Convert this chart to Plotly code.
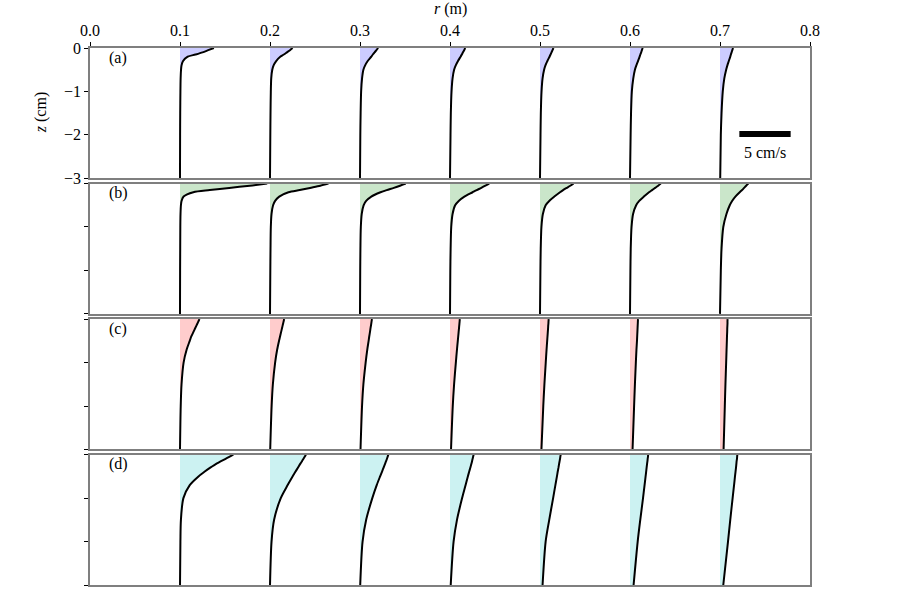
import plotly.graph_objects as go

# depth grid (cm)
Z = [0, -0.05, -0.1, -0.15, -0.2, -0.3, -0.4, -0.5, -0.7, -1.0, -1.5, -2.0, -3.0]
# stations (m)
R0 = [0.1, 0.2, 0.3, 0.4, 0.5, 0.6, 0.7]
# horizontal scale: metres per cm/s
S = 0.0114

U_a = [
    [3.3, 2.75, 2.2, 1.5, 0.75, 0.3, 0.15, 0.1, 0.06, 0.04, 0.02, 0.01, 0.0],
    [2.2, 1.95, 1.65, 1.35, 1.0, 0.6, 0.35, 0.22, 0.12, 0.08, 0.05, 0.03, 0.0],
    [1.77, 1.6, 1.42, 1.25, 1.1, 0.75, 0.5, 0.33, 0.2, 0.11, 0.06, 0.03, 0.0],
    [1.49, 1.38, 1.26, 1.15, 1.03, 0.78, 0.56, 0.4, 0.25, 0.15, 0.08, 0.05, 0.0],
    [1.31, 1.22, 1.12, 1.03, 0.93, 0.72, 0.53, 0.4, 0.25, 0.15, 0.08, 0.05, 0.0],
    [1.24, 1.16, 1.09, 1.01, 0.94, 0.78, 0.62, 0.48, 0.32, 0.18, 0.1, 0.06, 0.0],
    [1.27, 1.2, 1.13, 1.06, 1.0, 0.86, 0.72, 0.6, 0.42, 0.27, 0.15, 0.08, 0.02],
]
U_b = [
    [8.5, 6.8, 4.8, 2.9, 1.3, 0.35, 0.15, 0.09, 0.05, 0.03, 0.02, 0.01, 0.0],
    [5.7, 4.9, 3.9, 2.9, 1.8, 0.9, 0.5, 0.3, 0.15, 0.08, 0.05, 0.03, 0.0],
    [4.46, 3.9, 3.3, 2.6, 2.0, 1.1, 0.6, 0.35, 0.17, 0.08, 0.04, 0.02, 0.0],
    [3.82, 3.45, 3.05, 2.6, 2.2, 1.4, 0.85, 0.5, 0.25, 0.12, 0.06, 0.03, 0.0],
    [3.26, 2.95, 2.6, 2.25, 1.95, 1.4, 0.9, 0.55, 0.28, 0.14, 0.07, 0.04, 0.0],
    [3.0, 2.75, 2.45, 2.15, 1.85, 1.35, 0.9, 0.6, 0.3, 0.15, 0.07, 0.04, 0.0],
    [2.76, 2.55, 2.35, 2.15, 1.92, 1.5, 1.18, 0.95, 0.63, 0.32, 0.15, 0.08, 0.0],
]
U_c = [
    [1.9, 1.8, 1.7, 1.6, 1.5, 1.3, 1.1, 0.95, 0.65, 0.35, 0.15, 0.07, 0.0],
    [1.38, 1.33, 1.28, 1.23, 1.18, 1.08, 0.98, 0.88, 0.7, 0.5, 0.28, 0.16, 0.02],
    [1.17, 1.13, 1.1, 1.07, 1.03, 0.97, 0.9, 0.84, 0.71, 0.55, 0.33, 0.2, 0.05],
    [0.96, 0.94, 0.92, 0.9, 0.88, 0.84, 0.8, 0.76, 0.68, 0.57, 0.4, 0.27, 0.1],
    [0.85, 0.83, 0.82, 0.8, 0.79, 0.76, 0.73, 0.7, 0.64, 0.56, 0.43, 0.32, 0.14],
    [0.78, 0.77, 0.76, 0.75, 0.74, 0.72, 0.7, 0.68, 0.63, 0.57, 0.48, 0.4, 0.25],
    [0.74, 0.73, 0.73, 0.72, 0.71, 0.7, 0.68, 0.67, 0.64, 0.6, 0.53, 0.47, 0.35],
]
U_d = [
    [5.2, 4.8, 4.4, 4.0, 3.6, 2.95, 2.35, 1.8, 0.95, 0.33, 0.09, 0.04, 0.0],
    [3.5, 3.38, 3.25, 3.12, 2.98, 2.72, 2.46, 2.2, 1.72, 1.05, 0.4, 0.15, 0.0],
    [2.76, 2.69, 2.62, 2.54, 2.46, 2.3, 2.13, 1.96, 1.63, 1.2, 0.6, 0.25, 0.02],
    [2.3, 2.25, 2.2, 2.15, 2.1, 1.98, 1.86, 1.74, 1.52, 1.18, 0.68, 0.35, 0.07],
    [2.02, 1.98, 1.95, 1.91, 1.87, 1.8, 1.72, 1.65, 1.5, 1.28, 0.9, 0.55, 0.25],
    [1.77, 1.75, 1.72, 1.7, 1.67, 1.62, 1.57, 1.52, 1.42, 1.27, 1.0, 0.75, 0.35],
    [1.69, 1.67, 1.65, 1.62, 1.6, 1.56, 1.51, 1.46, 1.37, 1.23, 1.0, 0.78, 0.32],
]

PANELS = ["(a)", "(b)", "(c)", "(d)"]
FILLS = ["rgb(204,204,255)", "rgb(202,230,202)", "rgb(255,204,204)", "rgb(204,242,242)"]
X_TICKS = [0.0, 0.1, 0.2, 0.3, 0.4, 0.5, 0.6, 0.7, 0.8]
Y_TICKS = [0, -1, -2, -3]
BAR_SPEED = 5  # cm/s
BAR_X0 = 0.7215
BAR_Z = -1.98

FONT = "Liberation Serif, serif"
FS = 16
fig = go.Figure()

h = 0.2427
g = (1 - 4 * h) / 3
domains = [[1 - (i + 1) * h - i * g, 1 - i * h - i * g] for i in range(4)]
domains[3][0] = 0.0

for p, U in enumerate([U_a, U_b, U_c, U_d]):
    xa = "x" if p == 0 else f"x{p+1}"
    ya = "y" if p == 0 else f"y{p+1}"
    for r0, u in zip(R0, U):
        xs = [r0 + S * v for v in u]
        fig.add_trace(go.Scatter(x=[r0] * len(Z), y=Z, mode="lines",
                                 line=dict(width=0), hoverinfo="skip",
                                 showlegend=False, xaxis=xa, yaxis=ya))
        fig.add_trace(go.Scatter(x=xs, y=Z, mode="lines", fill="tonextx",
                                 fillcolor=FILLS[p],
                                 line=dict(color="black", width=2, shape="spline", smoothing=0.8),
                                 showlegend=False, xaxis=xa, yaxis=ya))
    axis_common = dict(showline=True, mirror=True, linecolor="#7f7f7f", linewidth=1.5,
                       showgrid=False, zeroline=False)
    key = "" if p == 0 else str(p + 1)
    xdict = dict(axis_common, range=[0, 0.8], anchor=ya)
    if p == 0:
        xdict.update(side="top", ticks="outside", ticklen=4, tickwidth=1, tickcolor="black",
                     tickvals=X_TICKS, ticktext=[f"{t:.1f}" for t in X_TICKS],
                     tickfont=dict(family=FONT, size=FS, color="black"))
    else:
        xdict.update(showticklabels=False, ticks="", matches="x")
    ydict = dict(axis_common, range=[-3, 0], anchor=xa, domain=domains[p],
                 ticks="outside", ticklen=4, tickwidth=1, tickcolor="black",
                 tickvals=Y_TICKS,
                 tickfont=dict(family=FONT, size=FS, color="black"))
    if p == 0:
        ydict.update(ticktext=["0", "\u22121", "\u22122", "\u22123"])
    else:
        ydict.update(showticklabels=False)
    fig.update_layout(**{f"xaxis{key}": xdict, f"yaxis{key}": ydict})
    fig.add_annotation(text=PANELS[p], x=0.039, y=0.926, xref=f"{xa} domain",
                       yref=f"{ya} domain", xanchor="center", yanchor="middle",
                       showarrow=False,
                       font=dict(family=FONT, size=FS, color="black"))

# scale bar
fig.add_trace(go.Scatter(x=[BAR_X0, BAR_X0 + S * BAR_SPEED], y=[BAR_Z, BAR_Z], mode="lines",
                         line=dict(color="black", width=6), showlegend=False,
                         xaxis="x", yaxis="y"))
fig.add_annotation(text=f"{BAR_SPEED} cm/s", x=BAR_X0 + S * BAR_SPEED / 2, y=-2.4,
                   xref="x", yref="y", xanchor="center", yanchor="middle", showarrow=False,
                   font=dict(family=FONT, size=FS, color="black"))

fig.add_annotation(text="<i>r</i> (m)", x=0.5, y=1.073, xref="paper", yref="paper",
                   xanchor="center", yanchor="middle",
                   showarrow=False, font=dict(family=FONT, size=FS, color="black"))
fig.add_annotation(text="<i>z</i> (cm)", x=-0.068, y=1 - h / 2, xref="paper", yref="paper",
                   xanchor="center", yanchor="middle",
                   textangle=-90, showarrow=False,
                   font=dict(family=FONT, size=FS, color="black"))

fig.update_layout(width=900, height=600, margin=dict(l=90, r=90, t=48, b=6),
                  plot_bgcolor="white", paper_bgcolor="white")
fig.write_html("out.html")
